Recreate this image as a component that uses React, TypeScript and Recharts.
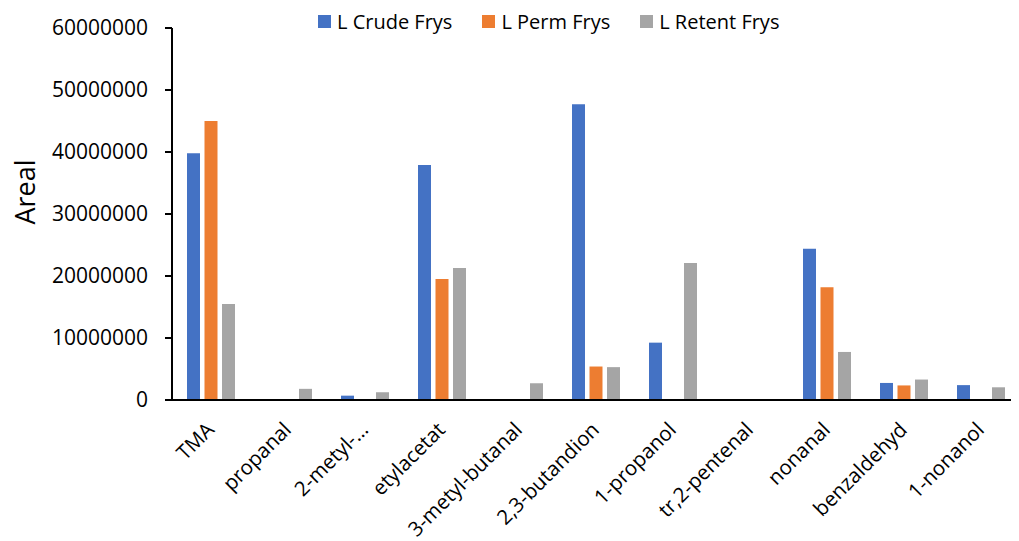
import { BarChart, Bar, XAxis, YAxis, Legend } from 'recharts';

const categories = ['TMA', 'propanal', '2-metyl-…', 'etylacetat', '3-metyl-butanal', '2,3-butandion', '1-propanol', 'tr,2-pentenal', 'nonanal', 'benzaldehyd', '1-nonanol'];

const crude = [39800000, 0, 700000, 37900000, 0, 47700000, 9250000, 0, 24400000, 2750000, 2400000];
const perm = [45000000, 0, 0, 19500000, 0, 5400000, 0, 0, 18200000, 2350000, 0];
const retent = [15500000, 1800000, 1250000, 21300000, 2700000, 5300000, 22100000, 0, 7750000, 3300000, 2050000];

const yTicks = [0, 10000000, 20000000, 30000000, 40000000, 50000000, 60000000];

const SERIES = [
  { key: 'crude', name: 'L Crude Frys', color: '#4472C4' },
  { key: 'perm', name: 'L Perm Frys', color: '#ED7D31' },
  { key: 'retent', name: 'L Retent Frys', color: '#A5A5A5' },
];

const FONT = '"Open Sans", sans-serif';

const data = categories.map((name, i) => ({
  name,
  crude: crude[i],
  perm: perm[i],
  retent: retent[i],
}));

const renderLegend = () => (
  <div style={{ display: 'flex', fontFamily: FONT, fontSize: 20, color: '#000' }}>
    {SERIES.map((s) => (
      <div key={s.key} style={{ display: 'flex', alignItems: 'center', marginRight: 30 }}>
        <span style={{ width: 13, height: 13, background: s.color, marginRight: 6, display: 'inline-block' }} />
        <span>{s.name}</span>
      </div>
    ))}
  </div>
);

const XTick = (props: any) => {
  const { x, y, payload } = props;
  return (
    <g transform={`translate(${x + 5},${y + 31})`}>
      <text textAnchor="end" transform="rotate(-45)" fontSize={20.5} fontFamily={FONT} fill="#000">
        {payload.value}
      </text>
    </g>
  );
};

const AxisLabel = () => (
  <text x={16} y={184} transform="rotate(-90 16 184)" textAnchor="middle" dominantBaseline="central"
    fontSize={27} fontFamily={FONT} fill="#000">
    Areal
  </text>
);

const App = () => {
  return (
    <div style={{ width: 1011, height: 533, fontFamily: FONT }}>
      <BarChart width={1011} height={533} data={data} barSize={13} barGap={4.5}
        margin={{ top: 20, right: 0, left: 0, bottom: 0 }}>
        <XAxis dataKey="name" interval={0} height={141} tickSize={0} tickMargin={0}
          tick={<XTick />} axisLine={{ stroke: '#000', strokeWidth: 2 }} tickLine={false} />
        <YAxis width={164} domain={[0, 60000000]} ticks={yTicks} interval={0}
          tickSize={7} tickMargin={17} axisLine={{ stroke: '#000', strokeWidth: 2 }}
          tickLine={{ stroke: '#000', strokeWidth: 2 }}
          tick={{ fill: '#000', fontSize: 21, fontFamily: FONT }}
          label={{ content: () => <AxisLabel /> }} />
        <Legend layout="horizontal" verticalAlign="middle" align="center" content={renderLegend}
          wrapperStyle={{ top: 0, left: 310, width: 600 }} />
        {SERIES.map((s) => (
          <Bar key={s.key} dataKey={s.key} name={s.name} fill={s.color} isAnimationActive={false} />
        ))}
      </BarChart>
    </div>
  );
};

export default App;
